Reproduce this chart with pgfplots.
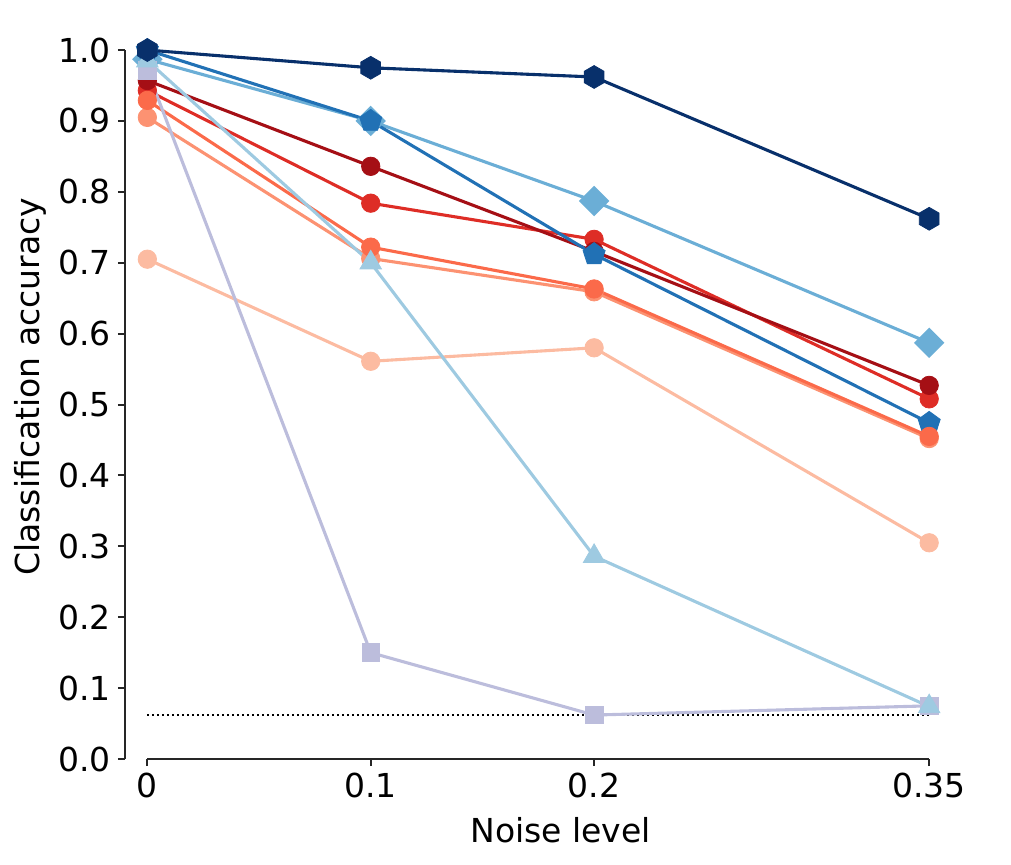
\documentclass[border=0pt]{standalone}
\usepackage{fontspec}
\setmainfont{DejaVu Sans}
\usepackage{pgfplots}
\pgfplotsset{compat=1.18}
\usetikzlibrary{plotmarks}
\definecolor{cR1}{RGB}{165,15,21}
\definecolor{cR2}{RGB}{222,45,38}
\definecolor{cR3}{RGB}{251,106,74}
\definecolor{cR4}{RGB}{252,146,114}
\definecolor{cR5}{RGB}{252,187,161}
\definecolor{cB1}{RGB}{8,48,107}
\definecolor{cB2}{RGB}{33,113,181}
\definecolor{cB3}{RGB}{107,174,214}
\definecolor{cB4}{RGB}{158,202,225}
\definecolor{cB5}{RGB}{188,189,220}
\definecolor{spine}{RGB}{38,38,38}
\pgfdeclareplotmark{hexagon*}{%
  \pgfpathmoveto{\pgfqpointpolar{90}{\pgfplotmarksize}}%
  \pgfpathlineto{\pgfqpointpolar{150}{\pgfplotmarksize}}%
  \pgfpathlineto{\pgfqpointpolar{210}{\pgfplotmarksize}}%
  \pgfpathlineto{\pgfqpointpolar{270}{\pgfplotmarksize}}%
  \pgfpathlineto{\pgfqpointpolar{330}{\pgfplotmarksize}}%
  \pgfpathlineto{\pgfqpointpolar{30}{\pgfplotmarksize}}%
  \pgfpathclose
  \pgfusepathqfillstroke}
\newcommand{\fs}{\fontsize{16.5}{19.8}\selectfont}
\begin{document}
\begin{tikzpicture}
\useasboundingbox (-62.5pt,-52.5pt) rectangle (443pt,379.5pt);
\begin{axis}[
  at={(0,0)}, anchor=south west,
  scale only axis, width=435.6pt, height=372.2pt,
  xmin=-0.01, xmax=0.38, ymin=0, ymax=1.05,
  clip=false,
  axis x line*=bottom, axis y line*=left,
  axis line style={draw=none},
  xtick={0,0.1,0.2,0.35}, xticklabels={0,0.1,0.2,0.35},
  ytick={0,0.1,0.2,0.3,0.4,0.5,0.6,0.7,0.8,0.9,1.0},
  yticklabel style={/pgf/number format/.cd, fixed, fixed zerofill, precision=1, assume math mode=true},
  tick align=outside, major tick length=3.5pt,
  tick style={spine, line width=1pt},
  tick label style={font=\fs, text=black},
  label style={font=\fs},
  xlabel={Noise level}, ylabel={Classification accuracy},
  xlabel style={at={(axis description cs:0.5,-0.0954)}, anchor=center},
  ylabel style={at={(axis description cs:-0.109,0.5)}, anchor=center, rotate=0},
  every axis plot/.append style={line width=1.55pt, mark options={solid, line width=0.4pt}},
]
\draw[spine, line width=1pt] (axis cs:-0.01,0) -- (axis cs:-0.01,1);
\draw[spine, line width=1pt] (axis cs:0,0) -- (axis cs:0.35,0);
\addplot[black, line width=0.75pt, dash pattern=on 0.7pt off 1.8pt] coordinates {(0,0.062) (0.35,0.062)};
\addplot[color=cR5, mark=*, mark size=4.6pt] coordinates {(0,0.705) (0.1,0.561) (0.2,0.580) (0.35,0.305)};
\addplot[color=cR4, mark=*, mark size=4.6pt] coordinates {(0,0.905) (0.1,0.706) (0.2,0.659) (0.35,0.452)};
\addplot[color=cB3, mark=square*, mark size=4.6pt, mark options={rotate=45}] coordinates {(0,0.987) (0.1,0.900) (0.2,0.787) (0.35,0.587)};
\addplot[color=cR2, mark=*, mark size=4.6pt] coordinates {(0,0.943) (0.1,0.784) (0.2,0.733) (0.35,0.508)};
\addplot[color=cR1, mark=*, mark size=4.6pt] coordinates {(0,0.957) (0.1,0.836) (0.2,0.716) (0.35,0.527)};
\addplot[color=cB2, mark=pentagon*, mark size=5.8pt] coordinates {(0,1.0) (0.1,0.900) (0.2,0.712) (0.35,0.474)};
\addplot[color=cR3, mark=*, mark size=4.6pt] coordinates {(0,0.929) (0.1,0.722) (0.2,0.663) (0.35,0.455)};
\addplot[color=cB5, mark=square*, mark size=4.4pt] coordinates {(0,0.971) (0.1,0.150) (0.2,0.062) (0.35,0.075)};
\addplot[color=cB4, mark=triangle*, mark size=6.2pt] coordinates {(0,0.985) (0.1,0.700) (0.2,0.286) (0.35,0.074)};
\addplot[color=cB1, mark=hexagon*, mark size=5.7pt] coordinates {(0,1.0) (0.1,0.975) (0.2,0.962) (0.35,0.762)};
\end{axis}
\end{tikzpicture}
\end{document}
